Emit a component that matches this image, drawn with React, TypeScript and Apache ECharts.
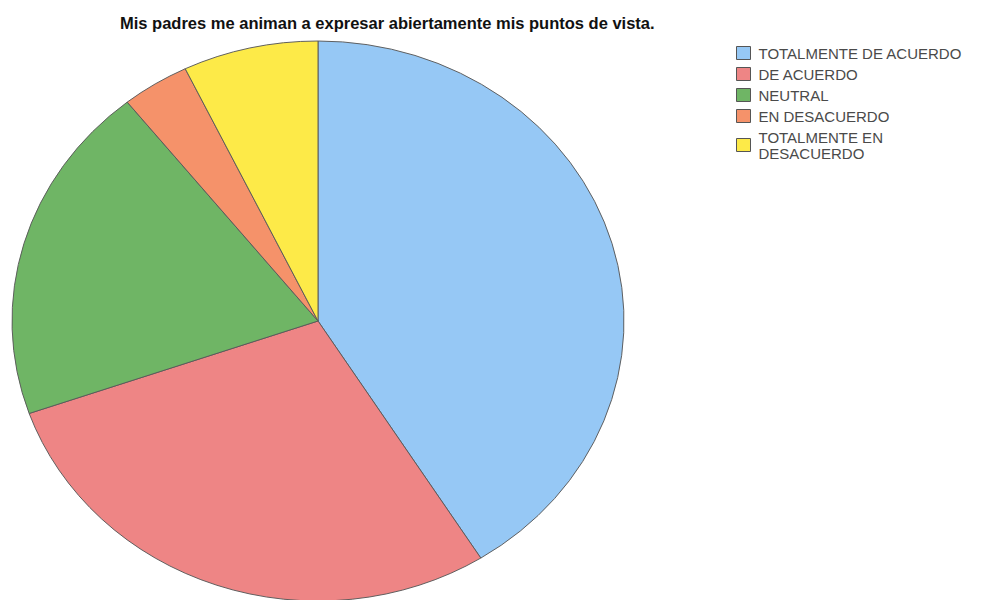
import React, { useEffect, useRef } from "react";
import * as echarts from "echarts";

const categories = [
  "TOTALMENTE DE ACUERDO",
  "DE ACUERDO",
  "NEUTRAL",
  "EN DESACUERDO",
  "TOTALMENTE EN\nDESACUERDO",
];
const values = [23, 16, 11, 2, 4];
const colors = ["#96c8f5", "#ee8585", "#6fb565", "#f5926a", "#fdea48"];
const titleText = "Mis padres me animan a expresar abiertamente mis puntos de vista.";

export default function App() {
  const ref = useRef<HTMLDivElement>(null);
  useEffect(() => {
    if (!ref.current) return;
    const chart = echarts.init(ref.current, null, { renderer: "svg" });
    const total = values.reduce((a, b) => a + b, 0);
    const starts: number[] = [];
    let acc = 0;
    values.forEach((v) => {
      starts.push(acc);
      acc += v;
    });
    const cx = 318;
    const cy = 321;
    const rx = 306;
    const ry = 280;
    const series = categories.map((name, i) => ({
      type: "custom",
      name,
      coordinateSystem: "none",
      color: colors[i],
      data: [values[i]],
      renderItem: (params: any, api: any) => {
        const v = api.value(0);
        const s = -Math.PI / 2 + (starts[i] / total) * Math.PI * 2;
        const e = s + (v / total) * Math.PI * 2;
        return {
          type: "sector",
          x: cx,
          y: cy,
          scaleY: ry / rx,
          shape: { cx: 0, cy: 0, r: rx, r0: 0, startAngle: s, endAngle: e, clockwise: true },
          style: { fill: api.visual("color"), stroke: "#5a5a5a", lineWidth: 1, strokeNoScale: true },
        };
      },
    }));
    chart.setOption({
      animation: false,
      backgroundColor: "#ffffff",
      title: {
        text: titleText,
        left: 115,
        top: 9,
        textStyle: {
          fontFamily: "Liberation Sans, Arial, sans-serif",
          fontSize: 16.5,
          fontWeight: "bold",
          color: "#111",
        },
      },
      legend: {
        orient: "vertical",
        left: 736,
        top: 45,
        padding: 0,
        icon: "rect",
        itemWidth: 14,
        itemHeight: 13,
        itemGap: 5,
        data: categories,
        itemStyle: { borderColor: "#555", borderWidth: 1 },
        textStyle: {
          fontFamily: "Liberation Sans, Arial, sans-serif",
          fontSize: 15,
          color: "#4a4a4a",
          lineHeight: 16,
          padding: [0, 0, 0, 3],
        },
      },
      series,
    });
    return () => chart.dispose();
  }, []);
  return (
    <div
      ref={ref}
      style={{ position: "fixed", left: 0, top: 0, width: 992, height: 600 }}
    />
  );
}
